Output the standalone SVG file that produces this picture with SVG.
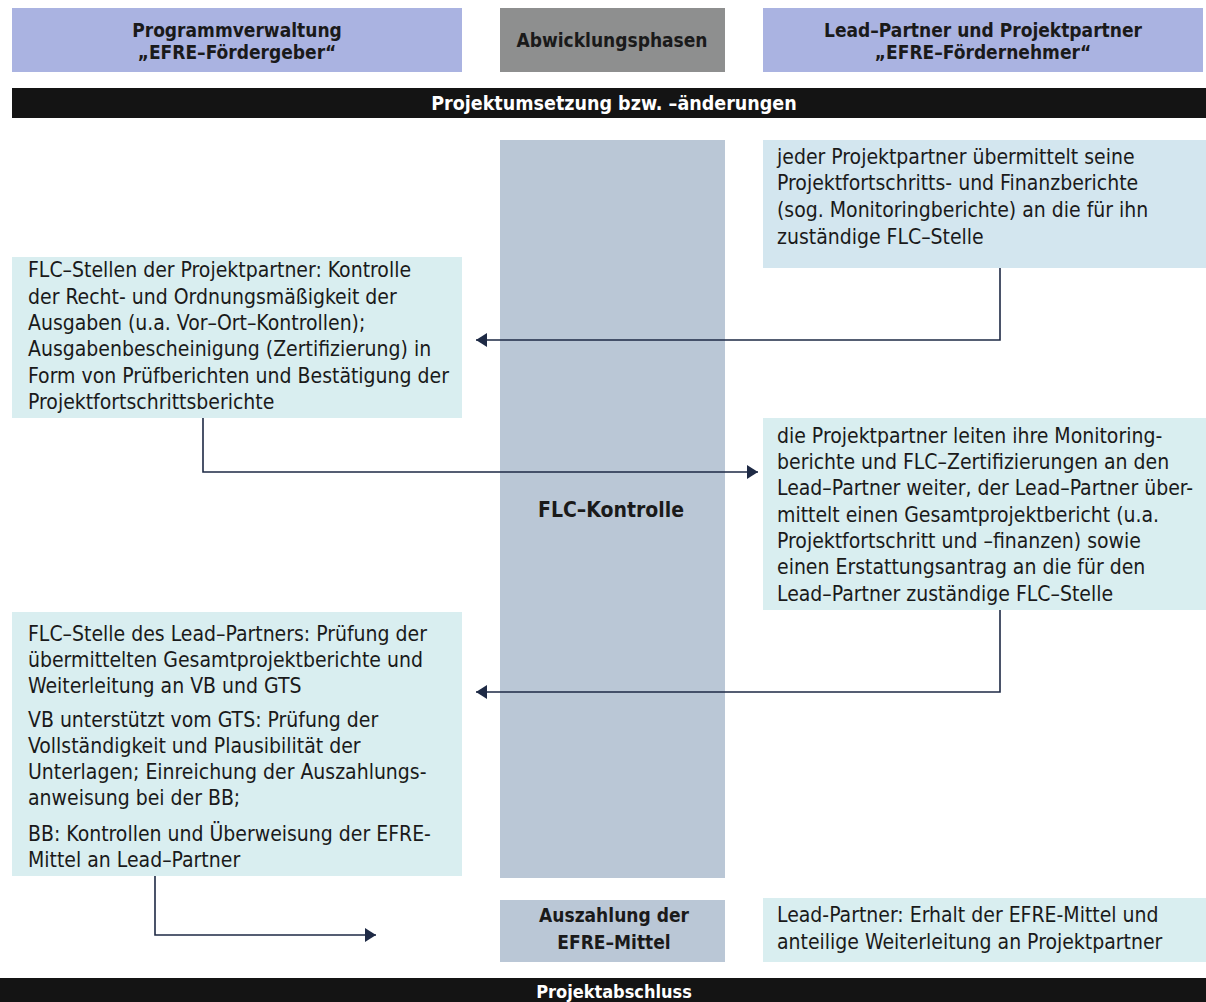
<svg xmlns="http://www.w3.org/2000/svg" width="1206" height="1002" viewBox="0 0 1206 1002">
<style>
.hdr{fill:#aab3e1}
.phase{fill:#8e8f8f}
.col{fill:#bac7d6}
.lt{fill:#d9eef0}
.ltb{fill:#d3e6ef}
.bar{fill:#141414}
text{font-family:"DejaVu Sans Condensed","DejaVu Sans","Liberation Sans",sans-serif;font-size:21px;fill:#1a1a1a}
.b{font-weight:bold;font-size:19px}
.big{font-size:21px}
.c{text-anchor:middle}
.w{fill:#ffffff}
.con{fill:none;stroke:#1e2a45;stroke-width:1.6}
</style>
<defs>
<marker id="ah" markerUnits="userSpaceOnUse" markerWidth="12" markerHeight="14" refX="11" refY="7" orient="auto">
<path d="M0,0 L11,7 L0,14 z" fill="#1e2a45"/>
</marker>
</defs>
<rect width="1206" height="1002" fill="#ffffff"/>

<g id="hdr-left">
<rect class="hdr" x="12" y="8" width="450" height="64"/>
<text class="b c" x="237" y="37">Programmverwaltung</text>
<text class="b c" x="237" y="59">„EFRE–Fördergeber“</text>
</g>
<g id="hdr-mid">
<rect class="phase" x="500" y="8" width="225" height="64"/>
<text class="b c" x="612" y="47">Abwicklungsphasen</text>
</g>
<g id="hdr-right">
<rect class="hdr" x="763" y="8" width="440" height="64"/>
<text class="b c" x="983" y="37">Lead–Partner und Projektpartner</text>
<text class="b c" x="983" y="59">„EFRE–Fördernehmer“</text>
</g>
<g id="bar-top">
<rect class="bar" x="12" y="88" width="1194" height="30"/>
<text class="b c w" x="614" y="110" style="font-size:19.5px">Projektumsetzung bzw. –änderungen</text>
</g>

<g id="phase-flc">
<rect class="col" x="500" y="140" width="225" height="738"/>
<text class="b c big" x="611" y="517">FLC–Kontrolle</text>
</g>

<g id="box-pp-report">
<rect class="ltb" x="763" y="140" width="443" height="128"/>
<text x="777" y="164">jeder Projektpartner übermittelt seine</text>
<text x="777" y="190">Projektfortschritts- und Finanzberichte</text>
<text x="777" y="217">(sog. Monitoringberichte) an die für ihn</text>
<text x="777" y="244">zuständige FLC–Stelle</text>
</g>

<g id="box-flc-pp">
<rect class="lt" x="12" y="257" width="450" height="161"/>
<text x="28" y="277">FLC–Stellen der Projektpartner: Kontrolle</text>
<text x="28" y="304">der Recht- und Ordnungsmäßigkeit der</text>
<text x="28" y="330">Ausgaben (u.a. Vor–Ort–Kontrollen);</text>
<text x="28" y="356">Ausgabenbescheinigung (Zertifizierung) in</text>
<text x="28" y="383">Form von Prüfberichten und Bestätigung der</text>
<text x="28" y="409">Projektfortschrittsberichte</text>
</g>

<g id="box-lp-report">
<rect class="lt" x="763" y="418" width="443" height="192"/>
<text x="777" y="443">die Projektpartner leiten ihre Monitoring-</text>
<text x="777" y="469">berichte und FLC–Zertifizierungen an den</text>
<text x="777" y="495">Lead–Partner weiter, der Lead–Partner über-</text>
<text x="777" y="522">mittelt einen Gesamtprojektbericht (u.a.</text>
<text x="777" y="548">Projektfortschritt und –finanzen) sowie</text>
<text x="777" y="574">einen Erstattungsantrag an die für den</text>
<text x="777" y="601">Lead–Partner zuständige FLC–Stelle</text>
</g>

<g id="box-flc-lp">
<rect class="lt" x="12" y="612" width="450" height="264"/>
<text x="28" y="641">FLC–Stelle des Lead–Partners: Prüfung der</text>
<text x="28" y="667">übermittelten Gesamtprojektberichte und</text>
<text x="28" y="693">Weiterleitung an VB und GTS</text>
<text x="28" y="727">VB unterstützt vom GTS: Prüfung der</text>
<text x="28" y="753">Vollständigkeit und Plausibilität der</text>
<text x="28" y="779">Unterlagen; Einreichung der Auszahlungs-</text>
<text x="28" y="805">anweisung bei der BB;</text>
<text x="28" y="841">BB: Kontrollen und Überweisung der EFRE-</text>
<text x="28" y="867">Mittel an Lead–Partner</text>
</g>

<g id="phase-payout">
<rect class="col" x="500" y="900" width="225" height="62"/>
<text class="b c" x="614" y="922">Auszahlung der</text>
<text class="b c" x="614" y="949">EFRE–Mittel</text>
</g>

<g id="box-lp-receive">
<rect class="lt" x="763" y="898" width="443" height="64"/>
<text x="777" y="922">Lead-Partner: Erhalt der EFRE-Mittel und</text>
<text x="777" y="949">anteilige Weiterleitung an Projektpartner</text>
</g>

<g id="bar-bottom">
<rect class="bar" x="0" y="978" width="1206" height="24"/>
<text class="b c w" x="614" y="998" style="font-size:18px">Projektabschluss</text>
</g>

<g id="connectors">
<path class="con" d="M1000,268 V340 H476" marker-end="url(#ah)"/>
<path class="con" d="M203,418 V472 H758" marker-end="url(#ah)"/>
<path class="con" d="M1000,610 V692 H476" marker-end="url(#ah)"/>
<path class="con" d="M155,876 V935 H376" marker-end="url(#ah)"/>
</g>
</svg>
